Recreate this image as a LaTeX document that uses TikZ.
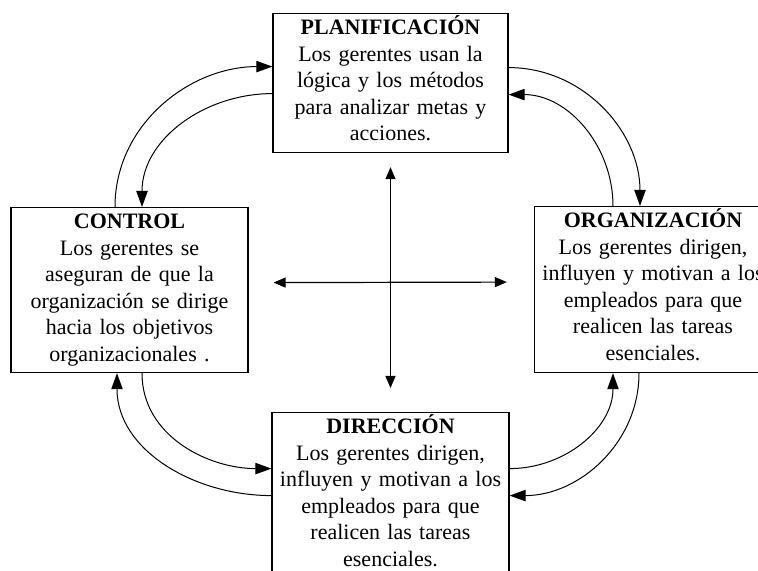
\documentclass[tikz,border=0pt]{standalone}
\usepackage{fontspec}
\setmainfont{Liberation Serif}
\usetikzlibrary{arrows.meta, positioning, calc}
\tikzset{
  fase/.style={draw, line width=0.9pt, inner sep=0pt, align=center,
    text height=15.75pt, font=\fontsize{16.5}{19.9}\selectfont},
  ciclo/.style={line width=0.75pt, -{Triangle[length=12pt, width=8.5pt]}},
  eje/.style={line width=0.9pt,
    {Triangle[length=9pt, width=7.5pt]}-{Triangle[length=9pt, width=7.5pt]}}
}

\begin{document}
\begin{tikzpicture}[x=0.75pt, y=0.75pt]
\useasboundingbox (0,0) rectangle (758,571);
\clip (0,0) rectangle (758,571);
\node[fase, text width=176.25pt, text depth=88.5pt, anchor=north] (plan) at (390.5,558)
  {\textbf{PLANIFICACIÓN}\\Los gerentes usan la\\lógica y los métodos\\para analizar metas y\\acciones.};
\node[fase, text width=177.75pt, text depth=108pt, anchor=north] (ctrl) at (129.5,364)
  {\textbf{CONTROL}\\Los gerentes se\\aseguran de que la\\organización se dirige\\hacia los objetivos\\organizacionales .};
\node[fase, text width=177.75pt, text depth=108.75pt, anchor=north] (orga) at (653,365)
  {\textbf{ORGANIZACIÓN}\\Los gerentes dirigen,\\influyen y motivan a los\\empleados para que\\realicen las tareas\\esenciales.};
\node[fase, text width=177.75pt, text depth=108.75pt, anchor=north] (dire) at (390.5,159)
  {\textbf{DIRECCIÓN}\\Los gerentes dirigen,\\influyen y motivan a los\\empleados para que\\realicen las tareas\\esenciales.};

\draw[ciclo] ($(ctrl.north)+(-14.5,0)$) to[out=90, in=180] ($(plan.west)+(0,16.5)$);
\draw[ciclo] ($(plan.west)+(0,-10.5)$) to[out=180, in=90] ($(ctrl.north)+(12.5,0)$);
\draw[ciclo] ($(plan.east)+(0,15.5)$) to[out=0, in=90] ($(orga.north)+(-13,0)$);
\draw[ciclo] ($(orga.north)+(-40,0)$) to[out=90, in=0] ($(plan.east)+(0,-11.5)$);
\draw[ciclo] ($(ctrl.south)+(12.5,0)$) to[out=-90, in=180] ($(dire.west)+(0,27)$);
\draw[ciclo] (dire.west) to[out=180, in=-90] ($(ctrl.south)+(-12.5,0)$);
\draw[ciclo] ($(dire.east)+(0,27)$) to[out=0, in=-90] ($(orga.south)+(-40,0)$);
\draw[ciclo] ($(orga.south)+(-14,0)$) to[out=-90, in=0] (dire.east);

\draw[eje] ($(plan.south)+(0,-14)$) -- ($(dire.north)+(0,24)$);
\draw[eje] ($(ctrl.east)+(25,7.5)$) -- ($(orga.west)+(-27,7.5)$);
\end{tikzpicture}
\end{document}
